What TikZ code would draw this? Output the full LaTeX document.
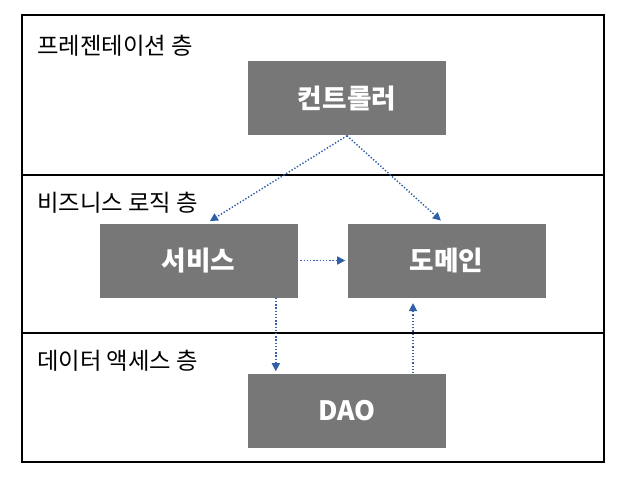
\documentclass[tikz,border=0pt]{standalone}
\usepackage{fontspec}
\newfontfamily\kr{Noto Sans CJK KR}
\usetikzlibrary{arrows.meta}
\definecolor{boxgray}{HTML}{777777}
\definecolor{flowblue}{HTML}{2E5FA8}
\tikzset{
 layerbox/.style={fill=boxgray,text=white,inner sep=0pt,minimum width=148.5pt,
  minimum height=55.5pt,font=\kr\bfseries\fontsize{20}{20}\selectfont},
 layername/.style={anchor=west,inner sep=0pt,font=\kr\fontsize{17.5}{17.5}\selectfont},
 flow/.style={flowblue,line width=1.1pt,dash pattern=on 1pt off 1.4pt,
  -{Triangle[length=6pt,width=6pt]}}
}
\begin{document}
\begin{tikzpicture}[x=0.75pt,y=-0.75pt]
 \useasboundingbox (0,0) rectangle (622,478);
 % layers
 \draw [line width=1.5pt] (22,15) rectangle (604,462);
 \foreach \y in {175,333}
  \draw [line width=1.1pt] (22,\y) -- (604,\y);
 \node [layername] (lpres) at (37,46) {프레젠테이션 층};
 \node [layername] (lbiz) at (37,203) {비즈니스 로직 층};
 \node [layername] (ldata) at (37,361) {데이터 액세스 층};
 % boxes
 \node [layerbox] (ctrl) at (347,98.5) {컨트롤러};
 \node [layerbox] (svc) at (198.5,260.5) {서비스};
 \node [layerbox] (dom) at (446.5,260.5) {도메인};
 \node [layerbox] (dao) at (347,410.5) {DAO};
 % dependencies
 \draw [flow,shorten >=3pt] (ctrl.south) -- ([xshift=6pt]svc.north);
 \draw [flow,shorten >=3pt] (ctrl.south) -- ([xshift=-2pt]dom.north);
 \draw [flow,shorten <=2pt,shorten >=1.5pt] (svc.east) -- (dom.west);
 \draw [flow,shorten >=1.5pt] ([xshift=58pt]svc.south) -- ([xshift=58pt]svc.south |- dao.north);
 \draw [flow,shorten >=4pt] ([xshift=49.5pt]dao.north) -- ([xshift=49.5pt]dao.north |- dom.south);
\end{tikzpicture}
\end{document}
